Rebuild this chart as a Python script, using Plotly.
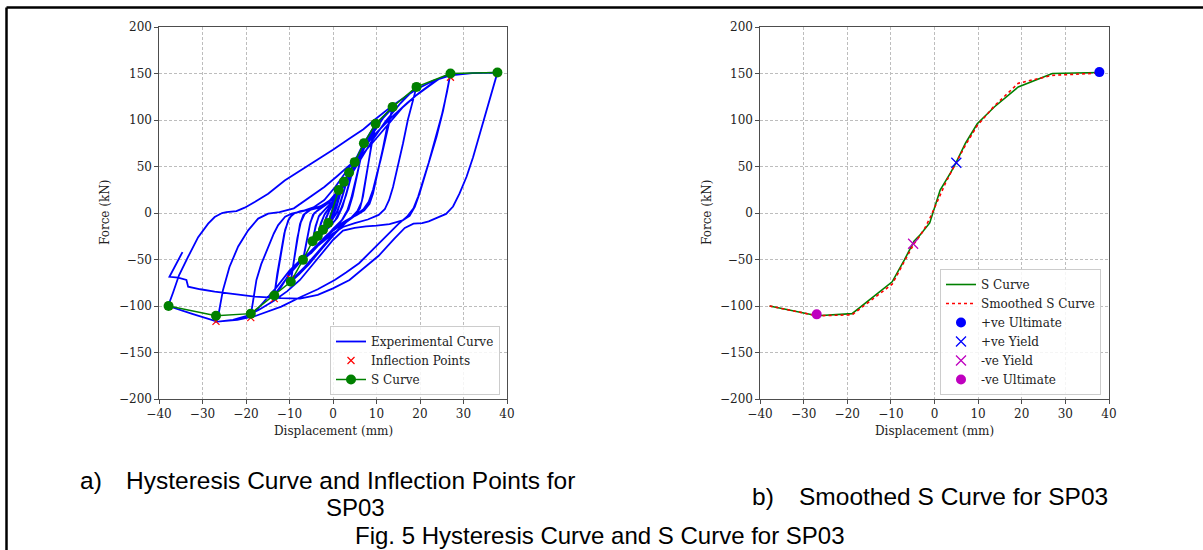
import plotly.graph_objects as go

W, H = 1203, 550

# ---------------- data ----------------
# S curve (inflection-based backbone)
s_d = [-37.8, -26.9, -18.9, -13.5, -9.7, -6.9, -4.7, -3.5, -2.3, -1.1,
       1.3, 2.5, 3.7, 5.0, 7.1, 9.8, 13.7, 19.2, 27.0, 37.8]
s_F = [-100, -110.5, -108.2, -88.7, -74, -50.4, -30.4, -24.6, -18, -10.7,
       24.6, 33.5, 43.5, 54.7, 75, 96, 114, 135.6, 150, 151]

# inflection points
inf_d = [-37.8, -26.9, -18.9, -13.5, -9.7, -6.9, -4.7, -3.5, -2.3, -1.1,
         1.3, 2.5, 3.7, 5.0, 7.1, 9.8, 13.7, 19.2, 27.0, 37.8]
inf_F = [-100, -116.5, -112.5, -92, -71, -50.4, -30.4, -24.6, -18, -10.7,
         24.6, 33.5, 43.5, 54.7, 75, 96, 114, 135.6, 146, 151]

# smoothed S curve
sm_d = [-37.8, -26.9, -18.9, -13.5, -9.7, -6.9, -4.7, -3.5, -2.3, -1.1,
        1.3, 2.5, 3.7, 5.0, 7.1, 9.8, 13.7, 19.2, 27.0, 37.8]
sm_F = [-100, -110.5, -109.5, -90, -76.5, -52, -33, -25.5, -17, -6,
        20, 32, 43, 54, 73, 94, 115, 139.5, 148, 150.5]

# characteristic points
pos_ult_d, pos_ult_F = [37.8], [151.5]
pos_yld_d, pos_yld_F = [5.0], [54]
neg_yld_d, neg_yld_F = [-4.9], [-33]
neg_ult_d, neg_ult_F = [-27.0], [-109]

# experimental hysteresis, read cycle by cycle (displacement mm, force kN)
cyc1 = [(0, 0), (0.6, 11), (1.3, 24.6), (0.7, 13), (0.1, 3), (-0.5, -4), (-1.1, -10.7),
        (-0.6, -3), (0.0, 5), (0.6, 13), (1.3, 24), (0.6, 12), (0, 2), (-0.6, -5), (-1.1, -10.5)]
cyc2 = [(-0.5, -1), (0.3, 8), (1.3, 20), (2.5, 33.5), (1.8, 23), (1.0, 9), (0.2, -2), (-1, -10),
        (-2.3, -18), (-1.6, -6), (-0.9, 2), (0.2, 11), (1.4, 23), (2.5, 33), (1.7, 21), (0.8, 6),
        (-0.2, -5), (-1.2, -12), (-2.3, -17.5)]
cyc3 = [(-1.6, -5), (-0.8, 3), (0.6, 14), (2.0, 27), (3.7, 43.5), (2.9, 30), (2.0, 15), (1.0, 1),
        (-0.6, -10), (-2, -17.5), (-3.5, -24.6), (-2.8, -12), (-2.0, -2), (-0.8, 6), (0.8, 18),
        (2.3, 31), (3.7, 43), (2.8, 28), (1.8, 12), (0.7, -1), (-1, -12), (-2.3, -19), (-3.5, -24)]
cyc4 = [(-2.8, -11), (-1.9, -1), (-0.5, 8), (1.2, 20), (3, 36), (5, 54.7), (4.2, 40), (3.2, 22),
        (2.2, 7), (1.0, -5), (-0.8, -15), (-2.7, -23), (-4.7, -30.4), (-4.0, -15), (-3.3, -4),
        (-2, 3), (0, 12), (2.3, 28), (3.8, 42), (5, 54), (4.1, 38), (3.0, 19), (1.8, 4), (0.6, -7),
        (-1.3, -17), (-3, -25), (-4.7, -30)]
cyc5 = [(-4.0, -14), (-3.2, -3), (-1.8, 4), (0.2, 14), (2.5, 31), (4.5, 50), (7.1, 75), (6.2, 55),
        (5.2, 35), (4.2, 16), (3.3, 3), (2, -8), (0, -18), (-2.5, -30), (-4.8, -42), (-6.9, -50.4),
        (-6.0, -30), (-5.3, -12), (-4.6, -2), (-3.5, 3), (-1.5, 10), (1, 22), (3.5, 40), (5.5, 58),
        (7.1, 75), (6.3, 57), (5.4, 38), (4.5, 18), (3.6, 4), (2.2, -7), (0, -17), (-2.6, -31),
        (-5, -43), (-6.8, -49)]
cyc6 = [(-6.0, -28), (-5.2, -10), (-4.3, 0), (-3, 4), (-1, 11), (2, 28), (5, 52), (7.5, 78),
        (9.8, 96), (9.0, 78), (8.3, 58), (7.6, 38), (6.9, 18), (6.2, 5), (5, -3), (3, -10),
        (0.5, -22), (-2.5, -38), (-5.5, -55), (-7.8, -66), (-9.7, -74), (-9.0, -52), (-8.3, -30),
        (-7.6, -12), (-6.8, -2), (-5.5, 3), (-3, 6), (-1, 12), (1.5, 26), (4, 46), (6.5, 70),
        (8.5, 86), (9.8, 95), (8.9, 74), (8.1, 52), (7.4, 32), (6.6, 12), (5.6, 2), (4, -6),
        (2, -14), (-0.5, -26), (-3.5, -42), (-6.5, -58), (-9.7, -73)]
cyc7 = [(-9.0, -50), (-8.2, -27), (-7.4, -10), (-6.5, -1), (-5, 4), (-2.5, 8), (0, 16), (2.5, 33),
        (5, 55), (7.5, 76), (10, 95), (13.7, 114), (13.0, 100), (12.3, 89), (11.5, 70), (10.7, 53),
        (9.8, 35), (9.2, 21), (8.4, 10), (7.2, 3), (5.5, -2), (3.8, -6), (1.5, -14), (0, -19),
        (-2, -28), (-3.8, -36), (-6, -45), (-7.6, -51), (-10, -65), (-12, -80), (-13.5, -88.7),
        (-12.8, -65), (-12, -42), (-11.2, -22), (-10.3, -8), (-9.3, -1), (-7.5, 2), (-5, 4),
        (-3, 7), (-1, 12), (1, 20), (3, 32), (5, 50), (7, 68), (9.5, 88), (11.5, 102), (13.7, 113),
        (12.9, 96), (12, 78), (11, 58), (10, 40), (9.2, 25), (8.2, 12), (7, 4), (5, -3), (3, -8),
        (1, -14), (-1.5, -24), (-4, -36), (-7, -50), (-9.5, -63), (-11.8, -78), (-13.5, -88)]
cyc8 = [(-12.6, -62), (-11.8, -38), (-11, -18), (-10, -5), (-8.8, 0), (-6, 3), (-3, 7), (0, 15),
        (3, 32), (6, 55), (9, 78), (12, 98), (15.5, 118), (19.2, 135.6), (18.4, 121), (17.2, 100),
        (16.1, 75), (14.9, 50), (13.8, 28), (12.9, 14), (11.9, 4), (10.5, -2), (8, -7), (5, -11),
        (2.3, -15), (0, -22), (-3.8, -36), (-7.6, -51), (-10, -62), (-13, -80), (-16, -96),
        (-17.5, -104), (-18.9, -110), (-18.3, -90), (-17.6, -72), (-16.5, -55), (-14.9, -36),
        (-13.6, -22), (-12.6, -13), (-11, -4), (-9.5, -0.7), (-7, 2), (-4.5, 6), (-2, 14),
        (0.5, 28), (3, 45), (6, 64), (9.5, 84), (13.7, 104), (17, 118), (20, 130), (23.5, 142),
        (27, 150)]
cyc9 = [(26.4, 135.5), (25.3, 110), (23.8, 82), (22.2, 57), (21.1, 39), (19.9, 21), (18.8, 6.5),
        (17.6, -3), (16, -8), (13, -12), (10, -13.5), (7.6, -14.3), (5, -16), (2.3, -19), (0, -29),
        (-3.8, -51), (-7.6, -72), (-10.5, -84), (-13.5, -94), (-17, -104), (-20, -111),
        (-23, -115), (-26.9, -117), (-26.4, -111), (-25.3, -83), (-23.8, -58), (-21.8, -36),
        (-19.5, -18.6), (-17.2, -6), (-14.9, -0.7), (-12.3, 1), (-9, 5), (-5.4, 17), (-2, 28),
        (0.8, 39), (4, 52), (6.9, 64), (9, 75), (11.5, 89), (14, 103), (16.1, 114), (19, 126),
        (21.5, 135), (24, 143), (27, 150), (26.2, 130), (25, 105), (23.5, 78), (22, 54),
        (20.8, 36), (19.6, 18), (18.5, 5), (17, -4), (15, -12), (12, -26), (9, -40), (6, -54),
        (3, -64), (0.4, -72), (-3.5, -82), (-7.3, -90), (-11.9, -100.7), (-18, -111), (-22, -115),
        (-26.6, -116.8), (-32, -109), (-37.9, -100)]
cyc10 = [(-36.8, -86), (-35.4, -67), (-33.3, -47), (-31, -26), (-28.7, -11.4), (-27.2, -4.3),
         (-25.5, 0), (-24.5, 1), (-22.2, 2), (-20.3, 5.7), (-18, 11.8), (-14.9, 20.7),
         (-11.1, 35), (-7, 47), (-3.8, 57), (0, 68), (3.8, 80), (7, 90), (9.5, 100), (13.8, 116),
         (19.2, 133), (23, 142), (27, 148), (32, 150.5), (37.8, 151), (36.8, 135), (35.2, 110),
         (33.7, 85), (32.2, 60), (30.7, 39), (29.1, 21), (27.6, 7), (26, -1), (24, -5), (22, -9),
         (20.5, -10.8), (18.5, -11.5), (16.5, -16), (14, -28), (10.5, -46), (7, -60), (3.8, -72),
         (0, -81), (-3.5, -88), (-7.6, -92), (-12, -91.5), (-18, -90), (-23, -87.5),
         (-27.2, -84.6), (-30.5, -82), (-33.3, -79.3), (-33.7, -72), (-35.6, -69.5),
         (-37.6, -68.6), (-34.6, -42)]

cycles = [cyc1, cyc2, cyc3, cyc4, cyc5, cyc6, cyc7, cyc8, cyc9, cyc10]
hyst_d = [p[0] for c in cycles for p in c]
hyst_F = [p[1] for c in cycles for p in c]

x_ticks = [-40, -30, -20, -10, 0, 10, 20, 30, 40]
y_ticks = [-200, -150, -100, -50, 0, 50, 100, 150, 200]

# ---------------- styling ----------------
SERIF = "DejaVu Serif"
SANS = "Liberation Sans, Arial, sans-serif"
BLUE = "#0000ff"
GREEN = "#008000"
RED = "#ff0000"
MAG = "#bf00bf"

fig = go.Figure()

# left panel
fig.add_trace(go.Scatter(x=hyst_d, y=hyst_F, mode="lines", name="Experimental Curve",
                         line=dict(color=BLUE, width=1.8), xaxis="x", yaxis="y", legend="legend"))
fig.add_trace(go.Scatter(x=inf_d, y=inf_F, mode="markers", name="Inflection Points",
                         marker=dict(symbol="x-thin", size=7, line=dict(color=RED, width=1.2), color=RED),
                         xaxis="x", yaxis="y", legend="legend"))
fig.add_trace(go.Scatter(x=s_d, y=s_F, mode="lines+markers", name="S Curve",
                         line=dict(color=GREEN, width=1.5), marker=dict(color=GREEN, size=10),
                         xaxis="x", yaxis="y", legend="legend"))

# right panel
fig.add_trace(go.Scatter(x=s_d, y=s_F, mode="lines", name="S Curve",
                         line=dict(color=GREEN, width=1.6), xaxis="x2", yaxis="y2", legend="legend2"))
fig.add_trace(go.Scatter(x=sm_d, y=sm_F, mode="lines", name="Smoothed S Curve",
                         line=dict(color=RED, width=1.6, dash="dot"), xaxis="x2", yaxis="y2",
                         legend="legend2"))
fig.add_trace(go.Scatter(x=pos_ult_d, y=pos_ult_F, mode="markers", name="+ve Ultimate",
                         marker=dict(color=BLUE, size=10), xaxis="x2", yaxis="y2", legend="legend2",
                         cliponaxis=False))
fig.add_trace(go.Scatter(x=pos_yld_d, y=pos_yld_F, mode="markers", name="+ve Yield",
                         marker=dict(symbol="x-thin", size=10, color=BLUE, line=dict(color=BLUE, width=1.3)),
                         xaxis="x2", yaxis="y2", legend="legend2"))
fig.add_trace(go.Scatter(x=neg_yld_d, y=neg_yld_F, mode="markers", name="-ve Yield",
                         marker=dict(symbol="x-thin", size=10, color=MAG, line=dict(color=MAG, width=1.3)),
                         xaxis="x2", yaxis="y2", legend="legend2"))
fig.add_trace(go.Scatter(x=neg_ult_d, y=neg_ult_F, mode="markers", name="-ve Ultimate",
                         marker=dict(color=MAG, size=10), xaxis="x2", yaxis="y2", legend="legend2"))


def axis_style(domain, anchor, vals, rng):
    return dict(domain=domain, anchor=anchor, range=rng, tickvals=vals, automargin=False,
                showgrid=True, gridcolor="#bdbdbd", griddash="3px,2px", gridwidth=0.8,
                showline=True, linecolor="#4d4d4d", linewidth=1.2, mirror=True,
                ticks="outside", ticklen=3.5, tickcolor="#4d4d4d", tickwidth=1,
                zeroline=False, tickfont=dict(family=SERIF, size=12, color="#222222"))


ydom = [1 - 399 / H, 1 - 27 / H]
fig.update_layout(
    template="none",
    width=W, height=H, autosize=False,
    margin=dict(l=0, r=0, t=0, b=0, pad=0, autoexpand=False),
    paper_bgcolor="white", plot_bgcolor="white",
    xaxis=axis_style([159 / W, 507 / W], "y", x_ticks, [-40, 40]),
    yaxis=axis_style(ydom, "x", y_ticks, [-200, 200]),
    xaxis2=axis_style([760 / W, 1109 / W], "y2", x_ticks, [-40, 40]),
    yaxis2=axis_style(ydom, "x2", y_ticks, [-200, 200]),
    legend=dict(x=500 / W, y=1 - 395 / H, xanchor="right", yanchor="bottom",
                bgcolor="rgba(255,255,255,0.85)", bordercolor="#cccccc", borderwidth=1,
                font=dict(family=SERIF, size=12, color="#222222"), tracegroupgap=0),
    legend2=dict(x=1101 / W, y=1 - 395 / H, xanchor="right", yanchor="bottom",
                 bgcolor="rgba(255,255,255,0.85)", bordercolor="#cccccc", borderwidth=1,
                 font=dict(family=SERIF, size=12, color="#222222"), tracegroupgap=0),
)

ann = []
def t(text, x, y, size, family, xanchor="center", angle=0, color="#222222"):
    ann.append(dict(text=text, x=x / W, y=1 - y / H, xref="paper", yref="paper",
                    showarrow=False, xanchor=xanchor, yanchor="middle", textangle=angle,
                    font=dict(family=family, size=size, color=color)))

t("Force (kN)", 105, 213, 12, SERIF, angle=-90)
t("Force (kN)", 707, 213, 12, SERIF, angle=-90)
t("Displacement (mm)", 333, 431, 12, SERIF)
t("Displacement (mm)", 934, 431, 12, SERIF)
t("a)", 78, 480, 24.5, SANS, xanchor="left", color="black")
t("Hysteresis Curve and Inflection Points for", 124, 480, 24.5, SANS, xanchor="left", color="black")
t("SP03", 355, 507, 24, SANS, color="black")
t("b)", 750, 496, 24.5, SANS, xanchor="left", color="black")
t("Smoothed S Curve for SP03", 797, 496, 24.5, SANS, xanchor="left", color="black")
t("Fig. 5 Hysteresis Curve and S Curve for SP03", 600, 535.5, 24, SANS, color="black")
fig.update_layout(annotations=ann)

# page border (top and left edges)
fig.update_layout(shapes=[
    dict(type="line", xref="paper", yref="paper", x0=6.5 / W, x1=1.0, y0=1 - 7.5 / H, y1=1 - 7.5 / H,
         line=dict(color="black", width=2.5)),
    dict(type="line", xref="paper", yref="paper", x0=6.5 / W, x1=6.5 / W, y0=1 - 7.5 / H, y1=0,
         line=dict(color="black", width=2.5)),
])

fig.write_html("out.html", include_plotlyjs=True, full_html=True,
               config={"displayModeBar": False, "responsive": False},
               post_script="document.body.style.margin='0';document.body.style.overflow='hidden';")
